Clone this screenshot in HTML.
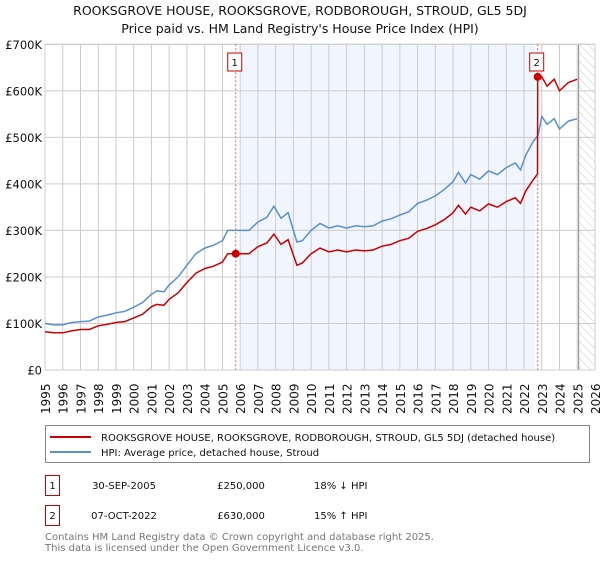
<!DOCTYPE html>
<html><head><meta charset="utf-8"><style>
body{margin:0;background:#fff;font-family:"DejaVu Sans","Liberation Sans",sans-serif;}
svg text{font-family:"DejaVu Sans","Liberation Sans",sans-serif;}
</style></head><body>
<svg id="c" width="600" height="560" viewBox="0 0 600 560" xmlns="http://www.w3.org/2000/svg">
<defs><pattern id="hatch" width="6" height="6" patternUnits="userSpaceOnUse" patternTransform="rotate(-45)"><line x1="0" y1="0" x2="0" y2="6" stroke="#ccc" stroke-width="1"/></pattern></defs>
<text x="300" y="15" text-anchor="middle" font-size="12.5" fill="#111">ROOKSGROVE HOUSE, ROOKSGROVE, RODBOROUGH, STROUD, GL5 5DJ</text>
<text x="300" y="33" text-anchor="middle" font-size="12.5" fill="#111">Price paid vs. HM Land Registry's House Price Index (HPI)</text>
<g id="plot"></g>
<rect x="45.5" y="425.5" width="544" height="37" fill="#fff" stroke="#888"/>
<line x1="50" y1="437" x2="91" y2="437" stroke="#cc0000" stroke-width="2"/>
<text x="101" y="441" font-size="10" fill="#111">ROOKSGROVE HOUSE, ROOKSGROVE, RODBOROUGH, STROUD, GL5 5DJ (detached house)</text>
<line x1="50" y1="452" x2="91" y2="452" stroke="#5b8fd0" stroke-width="2"/>
<text x="101" y="456" font-size="10" fill="#111">HPI: Average price, detached house, Stroud</text>
<g font-size="10" fill="#111">
<rect x="45.5" y="475.5" width="14" height="20" fill="#fff" stroke="#cc0000"/>
<text x="52.5" y="489" text-anchor="middle">1</text>
<text x="124" y="489" text-anchor="middle">30-SEP-2005</text>
<text x="241" y="489" text-anchor="middle">£250,000</text>
<text x="314" y="489">18% ↓ HPI</text>
<rect x="45.5" y="505.5" width="14" height="20" fill="#fff" stroke="#cc0000"/>
<text x="52.5" y="519" text-anchor="middle">2</text>
<text x="124" y="519" text-anchor="middle">07-OCT-2022</text>
<text x="241" y="519" text-anchor="middle">£630,000</text>
<text x="314" y="519">15% ↑ HPI</text>
</g>
<text x="45" y="540" font-size="10" fill="#777">Contains HM Land Registry data © Crown copyright and database right 2025.</text>
<text x="45" y="551" font-size="10" fill="#777">This data is licensed under the Open Government Licence v3.0.</text>
</svg>
<script>
const yearTicks=[1995,1996,1997,1998,1999,2000,2001,2002,2003,2004,2005,2006,2007,2008,2009,2010,2011,2012,2013,2014,2015,2016,2017,2018,2019,2020,2021,2022,2023,2024,2025,2026];
const valueTicks=[0,100,200,300,400,500,600,700];
const valueLabels=["£0","£100K","£200K","£300K","£400K","£500K","£600K","£700K"];
const hpiYears=[1995,1995.5,1996,1996.5,1997,1997.5,1998,1998.5,1999,1999.5,2000,2000.5,2001,2001.3,2001.7,2002,2002.5,2003,2003.5,2004,2004.5,2005,2005.3,2005.75,2006,2006.5,2007,2007.5,2007.9,2008.3,2008.7,2009.2,2009.5,2010,2010.5,2011,2011.5,2012,2012.5,2013,2013.5,2014,2014.5,2015,2015.5,2016,2016.5,2017,2017.5,2018,2018.3,2018.7,2019,2019.5,2020,2020.5,2021,2021.5,2021.8,2022.1,2022.5,2022.8,2023,2023.3,2023.7,2024,2024.5,2025];
const hpiValues=[100,97,97,102,104,105,114,118,123,126,135,145,163,170,168,183,200,225,250,262,268,278,300,300,300,300,318,328,352,326,338,275,278,300,315,305,310,305,310,308,310,320,325,333,340,358,365,374,388,405,425,402,420,410,428,420,435,445,430,462,490,505,545,528,540,518,535,540];
const priceYears=[1995,1995.5,1996,1996.5,1997,1997.5,1998,1998.5,1999,1999.5,2000,2000.5,2001,2001.3,2001.7,2002,2002.5,2003,2003.5,2004,2004.5,2005,2005.3,2005.75,2006,2006.5,2007,2007.5,2007.9,2008.3,2008.7,2009.2,2009.5,2010,2010.5,2011,2011.5,2012,2012.5,2013,2013.5,2014,2014.5,2015,2015.5,2016,2016.5,2017,2017.5,2018,2018.3,2018.7,2019,2019.5,2020,2020.5,2021,2021.5,2021.8,2022.1,2022.5,2022.76,2022.77,2023,2023.3,2023.7,2024,2024.5,2025];
const priceValues=[82,80,80,84,87,87,95,98,102,104,112,120,136,141,139,152,166,188,208,218,223,232,250,250,250,250,265,273,292,270,280,225,230,250,262,254,258,254,258,256,258,266,270,278,283,298,304,312,323,338,354,335,350,342,357,350,362,370,358,385,408,421,630,630,610,625,600,618,625];
const sales=[{year:2005.75,value:250,label:"1"},{year:2022.77,value:630,label:"2"}];
const X0=45,X1=595,Y0=370,Y1=44.3;
const x=y=>X0+(y-1995)/(2026-1995)*(X1-X0);
const yv=v=>Y0-v/700*(Y0-Y1);
const ns="http://www.w3.org/2000/svg";
const g=document.getElementById('plot');
function mk(t,a){const e=document.createElementNS(ns,t);for(const k in a)e.setAttribute(k,a[k]);g.appendChild(e);return e;}
let e;
e=mk('rect',{x:X0,y:Y1,width:X1-X0,height:Y0-Y1,fill:'#fff'});


e=mk('rect',{x:x(2006),y:Y1,width:x(2022.6)-x(2006),height:Y0-Y1,fill:'#eef2fc',opacity:0.8});


e=mk('rect',{x:x(2025.08),y:Y1,width:X1-x(2025.08),height:Y0-Y1,fill:'url(#hatch)'});


yearTicks.forEach(t=>{
 e=mk('line',{x1:x(t),x2:x(t),y1:Y1,y2:Y0,stroke:'#ccc','stroke-width':1});
 
 
 e=mk('text',{x:0,y:0,transform:`translate(${x(t)+5},${Y0+44}) rotate(-90)`,'font-size':12,fill:'#111'});
 e.textContent=t;
 
 
});
valueTicks.forEach((v,i)=>{
 e=mk('line',{x1:X0,x2:X1,y1:yv(v),y2:yv(v),stroke:'#ccc','stroke-width':1});
 
 
 e=mk('text',{x:X0-3,y:yv(v)+4.5,'text-anchor':'end','font-size':11.5,fill:'#111'});
 e.textContent=valueLabels[i];
 
 
});
e=mk('line',{x1:x(2025.08),x2:x(2025.08),y1:Y1,y2:Y0,stroke:'#888','stroke-width':1});


e=mk('rect',{x:X0,y:Y1,width:X1-X0,height:Y0-Y1,fill:'none',stroke:'#ccc'});


sales.forEach(s=>{
 e=mk('line',{x1:x(s.year),x2:x(s.year),y1:Y1,y2:Y0,stroke:'#f06070','stroke-width':1,'stroke-dasharray':'2,2'});
 
 
});
e=mk('path',{d:hpiYears.map((t,i)=>(i?'L':'M')+x(t).toFixed(1)+','+yv(hpiValues[i]).toFixed(1)).join(''),fill:'none',stroke:'#5b8fd0','stroke-width':1.5});


e=mk('path',{d:priceYears.map((t,i)=>(i?'L':'M')+x(t).toFixed(1)+','+yv(priceValues[i]).toFixed(1)).join(''),fill:'none',stroke:'#cc0000','stroke-width':1.5});


sales.forEach(s=>{
 e=mk('circle',{cx:x(s.year),cy:yv(s.value),r:4,fill:'#cc0000'});
 
 
 e=mk('rect',{x:x(s.year)-8,y:53,width:14,height:18,fill:'#fff',stroke:'#cc0000'});
 
 
 e=mk('text',{x:x(s.year)-1,y:66,'text-anchor':'middle','font-size':10,fill:'#111'});
 e.textContent=s.label;
 
 
});
</script>
</body></html>
